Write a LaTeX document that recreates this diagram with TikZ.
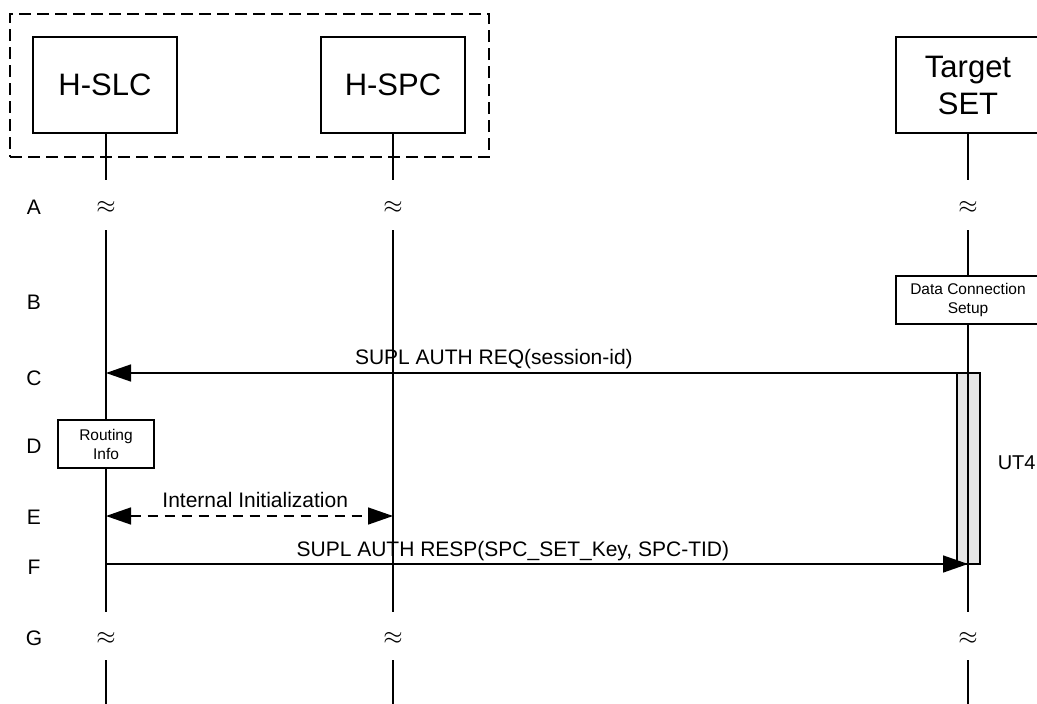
\documentclass[tikz,border=0pt]{standalone}
\usepackage{fontspec}
\setmainfont{Liberation Sans}
\usetikzlibrary{arrows.meta}
\definecolor{timergray}{RGB}{230,230,230}
\begin{document}
\begin{tikzpicture}[x=1pt,y=-1pt,line width=1.5pt,
  entity/.style={draw,fill=white,minimum width=144pt,minimum height=96pt,inner sep=0pt,align=center,font=\fontsize{31}{37}\selectfont},
  smallbox/.style={draw,fill=white,inner sep=0pt,align=center,font=\fontsize{15.5}{19}\selectfont},
  rowlbl/.style={font=\fontsize{21}{24}\selectfont,inner sep=0pt},
  brk/.style={font=\fontsize{25}{28}\selectfont,inner sep=0pt},
  msg/.style={-{Triangle[length=25pt,width=17pt]}},
  lbl/.style={font=\fontsize{21}{24}\selectfont,inner sep=0pt,anchor=base,yshift=9pt},
  grp/.style={draw,dash pattern=on 12pt off 6pt}
]
\useasboundingbox (0,0) rectangle (1037,704);

% group box
\node[grp,minimum width=479pt,minimum height=143pt,inner sep=0pt] (grp) at (249.5,85.5) {};

% entities
\node[entity] (hslc) at (105,85) {H-SLC};
\node[entity] (hspc) at (393,85) {H-SPC};
\node[entity] (tset) at (968,85) {Target\\SET};

% lifeline coordinates
\foreach \n/\x in {a/106,b/393,c/968}{
  \coordinate (\n1) at (\x,180);
  \coordinate (\n2) at (\x,230);
  \coordinate (\n3) at (\x,612);
  \coordinate (\n4) at (\x,660);
  \coordinate (\n5) at (\x,704);
}
\draw (hslc.south -| a1) -- (a1) (a2) -- (a3) (a4) -- (a5);
\draw (hspc.south -| b1) -- (b1) (b2) -- (b3) (b4) -- (b5);
\draw (c2) -- (c3) (c4) -- (c5);
\draw (tset.south) -- (c1);

% breaks
\foreach \n/\x in {a/106,b/393,c/968}{
  \node[brk] (\n brkA) at (\x,207) {$\approx$};
  \node[brk] (\n brkG) at (\x,638) {$\approx$};
}

% row labels
\node[rowlbl] (rA) at (34,207) {A};
\node[rowlbl] (rB) at (34,302) {B};
\node[rowlbl] (rC) at (34,378) {C};
\node[rowlbl] (rD) at (34,446) {D};
\node[rowlbl] (rE) at (34,517) {E};
\node[rowlbl] (rF) at (34,567) {F};
\node[rowlbl] (rG) at (34,638) {G};

% data connection setup
\node[smallbox,minimum width=144pt,minimum height=48pt] (dcs) at (968,300) {Data Connection\\Setup};

% timer
\node[draw,fill=timergray,minimum width=23pt,minimum height=191pt,inner sep=0pt] (ut4bar) at (968.5,468.5) {};
\coordinate (ct) at (968,373);
\coordinate (cb) at (968,564);
\draw (ct) -- (cb);
\node[font=\fontsize{20}{24}\selectfont,anchor=west,inner sep=0pt] (ut4) at (997,463) {UT4};

% routing info
\node[smallbox,minimum width=96pt,minimum height=48pt] (ri) at (106,444) {Routing\\Info};

% messages
\coordinate (cC) at (106,373);
\coordinate (eL) at (106,516);
\coordinate (eR) at (393,516);
\coordinate (fL) at (106,564);
\draw[msg] (ct) -- node[lbl,pos=0.55] (lC) {SUPL AUTH REQ(session-id)} (cC);
\draw[{Triangle[length=25pt,width=17pt]}-{Triangle[length=25pt,width=17pt]},dash pattern=on 10pt off 7pt] (eL) -- node[lbl,pos=0.52] (lE) {Internal Initialization} (eR);
\draw[msg] (fL) -- node[lbl,pos=0.472,yshift=-1pt] (lF) {SUPL AUTH RESP(SPC\_SET\_Key, SPC-TID)} (cb);
\end{tikzpicture}
\end{document}
